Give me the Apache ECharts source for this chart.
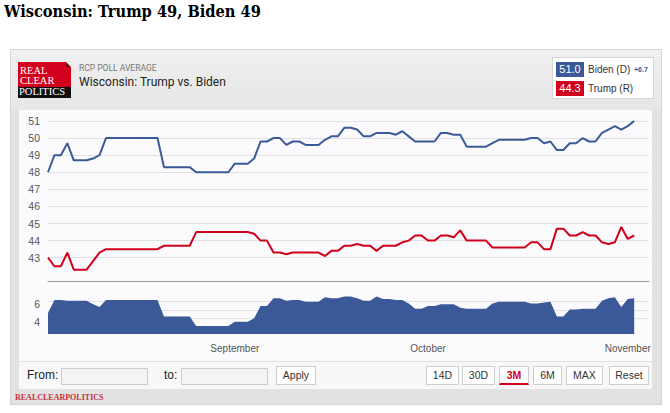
<!DOCTYPE html>
<html><head><meta charset="utf-8">
<script src="https://cdn.jsdelivr.net/npm/echarts@6/dist/echarts.min.js"></script>
<style>
html,body{margin:0;padding:0;width:670px;height:413px;overflow:hidden;background:#fff;font-family:'Liberation Sans',Arial,sans-serif;}
.abs{position:absolute;box-sizing:border-box;}
#title{left:4px;top:2px;font-family:'DejaVu Serif Condensed','DejaVu Serif',serif;font-stretch:condensed;font-weight:bold;font-size:16px;color:#000;white-space:nowrap;line-height:20px;}
#frame{left:10px;top:49px;width:652px;height:356px;background:#e2e2e2;border:1px solid #d6d6d6;}
#header{left:11px;top:50px;width:650px;height:60px;background:linear-gradient(#f0f0f0,#e6e6e6);}
#panel{left:19px;top:110px;width:633px;height:251px;background:#fbfbfd;}
#controls{left:19px;top:361px;width:633px;height:28px;background:#f8f8f8;border-top:1px solid #e0e0e0;}
#logoRed{left:18px;top:62px;width:53px;height:25px;background:#d2001c;}
#logoFold{left:66px;top:62px;width:0;height:0;border-top:5px solid #fff;border-left:5px solid #7a0010;}
#logoBlack{left:18px;top:87px;width:53px;height:11px;background:#111;}
.logoTxt{position:absolute;left:20px;font-family:'Liberation Serif',serif;font-size:10.5px;color:#fff;line-height:10px;white-space:nowrap;}
#sub{left:79px;top:63px;font-family:Roboto,sans-serif;font-size:8.5px;color:#777;white-space:nowrap;}
#name{left:79px;top:75px;font-family:Roboto,sans-serif;font-size:12px;color:#222;white-space:nowrap;}
#legend{left:552px;top:57px;width:102px;height:42px;background:#fff;border:1px solid #d6d6d6;}
.lbox{position:absolute;left:3px;width:28px;height:15px;color:#fff;font-size:11px;line-height:15px;text-align:center;}
.lname{position:absolute;left:35px;font-size:10px;color:#333;line-height:15px;white-space:nowrap;}
#spreadTxt{position:absolute;left:81px;top:4px;font-size:7px;color:#3b5998;font-weight:bold;line-height:15px;}
.lbl{position:absolute;font-size:12px;color:#222;line-height:15px;}
.inp{position:absolute;top:368px;width:85px;height:15px;background:#f4f4f4;border:1px solid #ccc;}
.btn{position:absolute;top:366px;height:19px;background:#fff;border:1px solid #cfcfcf;font-size:10.5px;color:#333;text-align:center;line-height:17px;box-sizing:border-box;}
#rcpFoot{left:15px;top:393px;font-family:'Liberation Serif',serif;font-weight:bold;font-size:8px;color:#c8323c;white-space:nowrap;}
#chart{position:absolute;left:0;top:0;width:670px;height:413px;}
</style></head>
<body>
<div id="title" class="abs">Wisconsin: Trump 49, Biden 49</div>
<div id="frame" class="abs"></div>
<div id="header" class="abs"></div>
<div id="panel" class="abs"></div>
<div id="controls" class="abs"></div>
<div id="logoRed" class="abs"></div>
<div id="logoFold" class="abs"></div>
<div id="logoBlack" class="abs"></div>
<div class="logoTxt" style="top:66px">REAL</div>
<div class="logoTxt" style="top:76px">CLEAR</div>
<div class="logoTxt" style="top:87px;left:19px">POLITICS</div>
<div id="sub" class="abs">RCP POLL AVERAGE</div>
<div id="name" class="abs">Wisconsin: Trump vs. Biden</div>
<div id="legend" class="abs">
  <div class="lbox" style="top:4px;background:#3b5998">51.0</div>
  <div class="lname" style="top:4px">Biden (D)</div>
  <div id="spreadTxt">+6.7</div>
  <div class="lbox" style="top:23px;background:#d0021b">44.3</div>
  <div class="lname" style="top:23px">Trump (R)</div>
</div>
<div class="lbl" style="left:27px;top:368px">From:</div>
<div class="inp" style="left:61px"></div>
<div class="lbl" style="left:164px;top:368px">to:</div>
<div class="inp" style="left:181px"></div>
<div class="btn" style="left:276px;width:40px">Apply</div>
<div class="btn" style="left:426px;width:33px">14D</div>
<div class="btn" style="left:462px;width:33px">30D</div>
<div class="btn" style="left:499px;width:30px;color:#d0021b;font-weight:bold;border-bottom:2px solid #d0021b">3M</div>
<div class="btn" style="left:533px;width:29px">6M</div>
<div class="btn" style="left:566px;width:37px">MAX</div>
<div class="btn" style="left:609px;width:40px">Reset</div>
<div id="rcpFoot" class="abs">REALCLEARPOLITICS</div>
<div id="chart"></div>
<script>
// ---- data (daily RCP averages, starting Aug 3, 2020) ----
const startDay = [2020, 7, 3];
const bidenValues = [
  48.0, 49.0, 49.0, 49.7, 48.7, 48.7, 48.7, 48.8, 49.0, 50.0,
  50.0, 50.0, 50.0, 50.0, 50.0, 50.0, 50.0, 50.0, 48.3, 48.3,
  48.3, 48.3, 48.3, 48.0, 48.0, 48.0, 48.0, 48.0, 48.0, 48.5,
  48.5, 48.5, 48.8, 49.8, 49.8, 50.0, 50.0, 49.6, 49.8, 49.8,
  49.6, 49.6, 49.6, 49.9, 50.1, 50.1, 50.6, 50.6, 50.5, 50.1,
  50.1, 50.3, 50.3, 50.3, 50.2, 50.4, 50.1, 49.8, 49.8, 49.8,
  49.8, 50.3, 50.3, 50.2, 50.2, 49.5, 49.5, 49.5, 49.5, 49.7,
  49.9, 49.9, 49.9, 49.9, 49.9, 50.0, 50.0, 49.7, 49.8, 49.3,
  49.3, 49.7, 49.7, 50.0, 49.8, 49.8, 50.3, 50.5, 50.7, 50.5,
  50.7, 51.0
];
const trumpValues = [
  43.0, 42.5, 42.5, 43.3, 42.3, 42.3, 42.3, 42.8, 43.3, 43.5,
  43.5, 43.5, 43.5, 43.5, 43.5, 43.5, 43.5, 43.5, 43.7, 43.7,
  43.7, 43.7, 43.7, 44.5, 44.5, 44.5, 44.5, 44.5, 44.5, 44.5,
  44.5, 44.5, 44.4, 44.0, 44.0, 43.3, 43.3, 43.2, 43.3, 43.3,
  43.3, 43.3, 43.3, 43.1, 43.4, 43.4, 43.7, 43.7, 43.8, 43.7,
  43.7, 43.4, 43.7, 43.7, 43.7, 43.9, 44.0, 44.3, 44.3, 44.0,
  44.0, 44.3, 44.3, 44.2, 44.6, 44.0, 44.0, 44.0, 44.0, 43.6,
  43.6, 43.6, 43.6, 43.6, 43.6, 43.9, 43.9, 43.5, 43.5, 44.7,
  44.7, 44.3, 44.3, 44.5, 44.3, 44.3, 43.9, 43.8, 43.9, 44.8,
  44.1, 44.3
];
const priceTickLabels = [43, 44, 45, 46, 47, 48, 49, 50, 51];
const spreadTickLabels = [4, 6];
const monthTickDates = [[2020, 8, 1], [2020, 9, 1], [2020, 10, 1]];
const monthTickLabels = ['September', 'October', 'November'];

// ---- build: x positions are days since the first poll date ----
const DAY = 86400000;
const t0 = Date.UTC(startDay[0], startDay[1], startDay[2]);
const dayIdx = bidenValues.map((_, i) => (Date.UTC(startDay[0], startDay[1], startDay[2] + i) - t0) / DAY);
const spreadValues = bidenValues.map((b, i) => Math.round((b - trumpValues[i]) * 10) / 10);
const monthDays = monthTickDates.map(d => (Date.UTC(d[0], d[1], d[2]) - t0) / DAY);
const xMin = 0, xMax = 93.3;

(function(){
  const el = document.getElementById('title');
  const w = el.getBoundingClientRect().width;
  el.style.fontSize = (16 * 257 / w) + 'px';
})();

const BLUE = '#3b5b98', RED = '#d0021b';
const chart = echarts.init(document.getElementById('chart'), null, {renderer: 'svg'});
const gridColor = '#e2e2e4';
const labelStyle = {color: '#555', fontSize: 10.5, fontFamily: 'Liberation Sans, Arial, sans-serif'};
chart.setOption({
  animation: false,
  grid: [
    {left: 48, width: 601, top: 103.9, height: 170.9, containLabel: false},
    {left: 48, width: 601, top: 281.7, height: 52.3, containLabel: false}
  ],
  xAxis: [
    {gridIndex: 0, type: 'value', min: xMin, max: xMax, show: false, splitLine: {show: false}},
    {gridIndex: 1, type: 'value', min: xMin, max: xMax, position: 'bottom',
     axisLine: {show: false}, axisTick: {show: false, customValues: monthDays}, splitLine: {show: false},
     axisLabel: Object.assign({}, labelStyle, {fontSize: 10, margin: 9,
       customValues: monthDays,
       formatter: v => { const i = monthDays.indexOf(v); return i >= 0 ? monthTickLabels[i] : ''; }})},
    {gridIndex: 1, type: 'value', min: xMin, max: xMax, position: 'top',
     axisLine: {show: true, lineStyle: {color: '#9a9a9a', width: 1}},
     axisTick: {show: false}, axisLabel: {show: false}, splitLine: {show: false}}
  ],
  yAxis: [
    {gridIndex: 0, type: 'value', min: 42, max: 52, interval: 1,
     axisLine: {show: false}, axisTick: {show: false},
     axisLabel: Object.assign({}, labelStyle, {margin: 8, customValues: priceTickLabels}),
     splitLine: {show: true, showMinLine: false, showMaxLine: false, lineStyle: {color: gridColor, width: 1}}},
    {gridIndex: 1, type: 'value', min: 2.586, max: 8.598,
     axisLine: {show: false},
     axisTick: {show: false, customValues: [3.35, 4.35, 5.35, 6.35, 7.35]},
     axisLabel: Object.assign({}, labelStyle, {margin: 8, customValues: spreadTickLabels}),
     splitLine: {show: true, showMinLine: false, showMaxLine: false, lineStyle: {color: gridColor, width: 1}}}
  ],
  series: [
    {name: 'Spread', type: 'line', xAxisIndex: 1, yAxisIndex: 1, symbol: 'none',
     data: dayIdx.map((d, i) => [d, spreadValues[i]]),
     lineStyle: {width: 0}, areaStyle: {color: '#3b5998', opacity: 1, origin: 'start'}},
    {name: 'Biden (D)', type: 'line', xAxisIndex: 0, yAxisIndex: 0, symbol: 'none',
     data: dayIdx.map((d, i) => [d, bidenValues[i]]),
     lineStyle: {color: BLUE, width: 2}},
    {name: 'Trump (R)', type: 'line', xAxisIndex: 0, yAxisIndex: 0, symbol: 'none',
     data: dayIdx.map((d, i) => [d, trumpValues[i]]),
     lineStyle: {color: RED, width: 2}}
  ]
});
</script>
</body></html>
